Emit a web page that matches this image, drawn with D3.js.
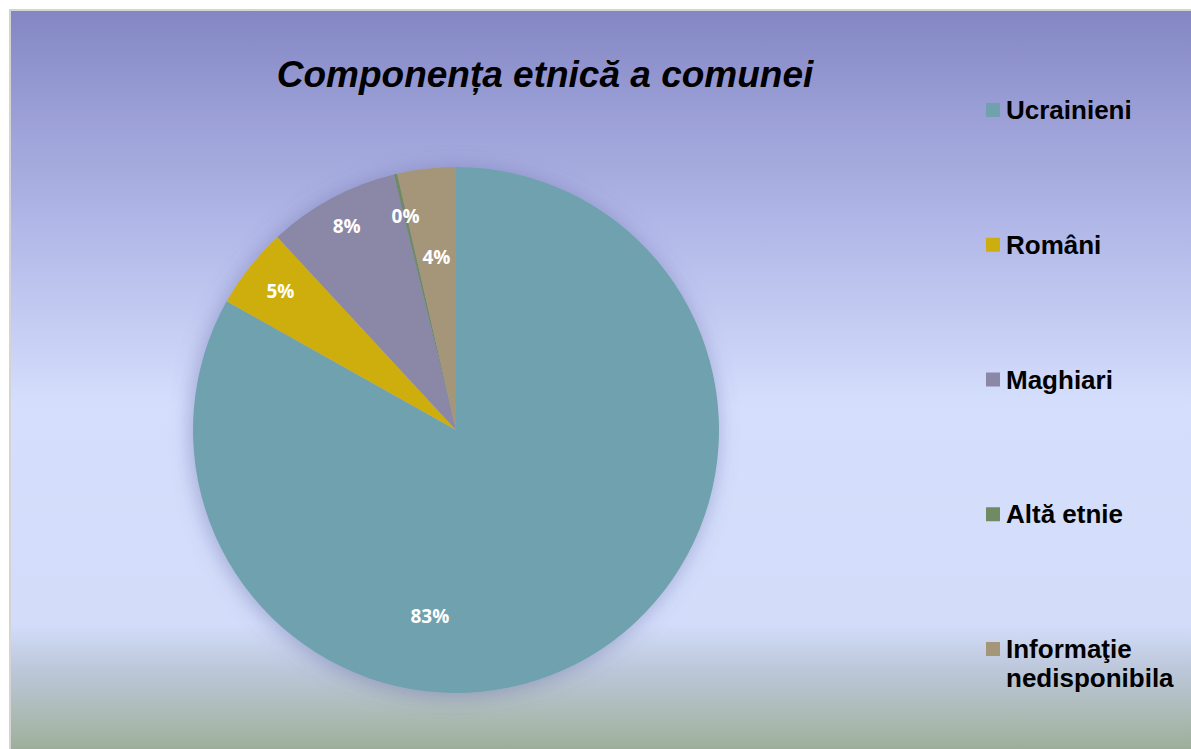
<!DOCTYPE html>
<html>
<head>
<meta charset="utf-8">
<script src="https://cdn.jsdelivr.net/npm/d3@7"></script>
<style>
  body { margin: 0; background: #fff; }
  svg { display: block; }
</style>
</head>
<body>
<div id="chart"></div>
<script>
// data (percent of population)
const categories = ["Ucrainieni", "Români", "Maghiari", "Altă etnie", "Informaţie nedisponibila"];
const values = [83.3, 5.0, 8.1, 0.2, 3.6];
const colors = ["#6fa1af", "#cdae10", "#8b87a6", "#708b64", "#a5967a"];
const chartTitle = "Componența etnică a comunei";

const width = 1191, height = 749;
const center = { x: 456, y: 430 }, radius = 263;
// label radius as fraction of pie radius (Excel "best fit" placement)
const labelRadius = [0.715, 0.85, 0.88, 0.835, 0.66];
const labelAngleOverride = { 0: 188 }; // degrees clockwise from 12 o'clock

const svg = d3.select("#chart").append("svg")
  .attr("width", width)
  .attr("height", height);

const defs = svg.append("defs");
const grad = defs.append("linearGradient")
  .attr("id", "bg")
  .attr("x1", 0).attr("y1", 0).attr("x2", 0).attr("y2", 1);
[[0, "#8386c3"], [0.12, "#989cd4"], [0.3, "#b3b9e8"], [0.53, "#d5dffd"], [0.82, "#d3ddfa"],
 [0.88, "#bcc7db"], [0.94, "#adbbb6"], [1, "#98ab93"]].forEach(s => {
  grad.append("stop").attr("offset", s[0]).attr("stop-color", s[1]);
});

const shadow = defs.append("filter").attr("id", "pieShadow")
  .attr("x", "-20%").attr("y", "-20%").attr("width", "140%").attr("height", "140%");
shadow.append("feDropShadow")
  .attr("dx", -2).attr("dy", 2)
  .attr("stdDeviation", 11)
  .attr("flood-color", "#5b5f9e")
  .attr("flood-opacity", 0.45);

// chart area
svg.append("rect")
  .attr("x", 10).attr("y", 10)
  .attr("width", width)
  .attr("height", height)
  .attr("fill", "url(#bg)")
  .attr("stroke", "#d4d4d4")
  .attr("stroke-width", 2);

svg.append("text")
  .attr("x", 545)
  .attr("y", 87)
  .attr("text-anchor", "middle")
  .style("font-family", "Liberation Sans, Arial, sans-serif")
  .style("font-weight", "bold")
  .style("font-style", "italic")
  .style("font-size", "37px")
  .attr("fill", "#000")
  .text(chartTitle);

const data = categories.map((c, i) => ({ name: c, value: values[i], color: colors[i], index: i }));
const total = d3.sum(values);

const pie = d3.pie().sort(null).value(d => d.value);
const arc = d3.arc().innerRadius(0).outerRadius(radius);
const arcs = pie(data);

const g = svg.append("g")
  .attr("transform", `translate(${center.x},${center.y})`);

g.append("g")
  .attr("filter", "url(#pieShadow)")
  .selectAll("path")
  .data(arcs)
  .join("path")
  .attr("d", arc)
  .attr("fill", d => d.data.color);

const fmt = d3.format(".0%");
g.selectAll("text.pct")
  .data(arcs)
  .join("text")
  .attr("class", "pct")
  .attr("transform", d => {
    let a = (d.startAngle + d.endAngle) / 2;
    if (labelAngleOverride[d.index] !== undefined) a = labelAngleOverride[d.index] * Math.PI / 180;
    const r = radius * labelRadius[d.index];
    return `translate(${r * Math.sin(a)},${-r * Math.cos(a)})`;
  })
  .attr("text-anchor", "middle")
  .attr("dy", "0.36em")
  .style("font-family", "Open Sans, sans-serif")
  .style("font-weight", "bold")
  .style("font-size", "19px")
  .attr("fill", "#fff")
  .text(d => fmt(d.data.value / total));

// legend
const legendY = d3.scalePoint().domain(categories).range([110, 649]);
const legend = svg.append("g").selectAll("g")
  .data(data)
  .join("g")
  .attr("transform", d => `translate(986,${legendY(d.name)})`);

legend.append("rect")
  .attr("x", 0).attr("y", -7)
  .attr("width", 14).attr("height", 14)
  .attr("fill", d => d.color);

legend.append("text")
  .attr("x", 20)
  .attr("y", 9)
  .style("font-family", "Liberation Sans, Arial, sans-serif")
  .style("font-weight", "bold")
  .style("font-size", "26px")
  .attr("fill", "#000")
  .each(function(d) {
    const words = d.name.split(" ");
    const el = d3.select(this);
    if (words.length > 1 && d.name.length > 14) {
      el.append("tspan").attr("x", 20).text(words[0]);
      el.append("tspan").attr("x", 20).attr("dy", 29).text(words.slice(1).join(" "));
    } else {
      el.text(d.name);
    }
  });
</script>
</body>
</html>
